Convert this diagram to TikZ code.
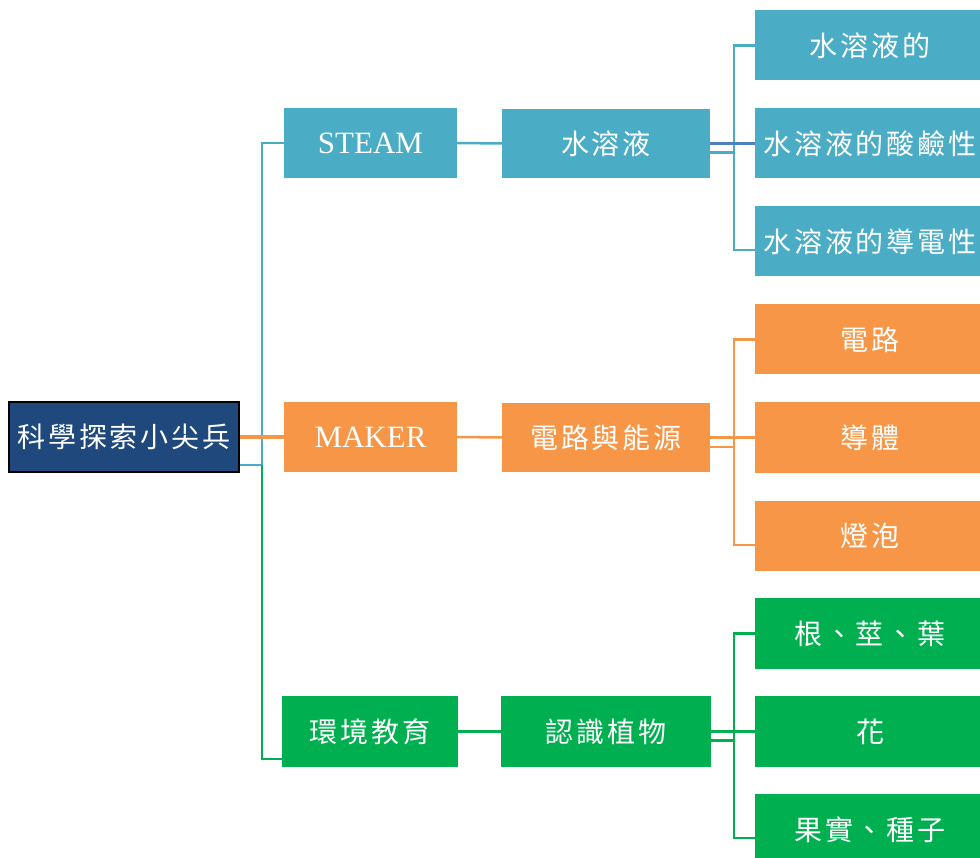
\documentclass[tikz,border=0pt]{standalone}
\usepackage{fontspec}
\setmainfont{Liberation Serif}
\newfontfamily\cjk{Noto Sans CJK TC}[LetterSpace=10]
\definecolor{cblue}{HTML}{4BACC6}
\definecolor{cdblue}{HTML}{4F81BD}
\definecolor{corange}{HTML}{F79646}
\definecolor{cgreen}{HTML}{00B050}
\definecolor{croot}{HTML}{1F497D}
\tikzset{
  box/.style={rectangle, inner sep=0pt, text=white, minimum height=70pt, font=\cjk\fontsize{28}{32}\selectfont},
  latinbox/.style={box, font=\fontsize{31}{34}\selectfont},
  bluebox/.style={fill=cblue},
  orangebox/.style={fill=corange},
  greenbox/.style={fill=cgreen},
  rootbox/.style={box, fill=croot, draw=black, line width=2pt, minimum width=230pt},
  bline/.style={draw=cblue, line width=2.5pt},
  dbline/.style={draw=cdblue, line width=2.5pt},
  oline/.style={draw=corange, line width=2.5pt},
  gline/.style={draw=cgreen, line width=2.5pt},
}
\begin{document}
\begin{tikzpicture}[x=1pt,y=-1pt]
\useasboundingbox (0,0) rectangle (980,858);
\clip (0,0) rectangle (980,858);
% root
\node[rootbox] (root) at (124,437) {科學探索小尖兵};
% level 1
\node[latinbox, bluebox, minimum width=173pt] (steam) at (370.5,143) {STEAM};
\node[latinbox, orangebox, minimum width=173pt] (maker) at (370.5,437) {MAKER};
\node[box, greenbox, minimum width=176pt, minimum height=71pt] (env) at (370,731.5) {環境教育};
% level 2
\node[box, bluebox, minimum width=208pt, minimum height=69pt] (sol) at (606,143.5) {水溶液};
\node[box, orangebox, minimum width=208pt, minimum height=69pt] (circ) at (606,437.5) {電路與能源};
\node[box, greenbox, minimum width=210pt, minimum height=71pt] (plant) at (606,731.5) {認識植物};
% level 3
\node[box, bluebox, minimum width=230pt] (b1) at (870,45.5) {水溶液的};
\node[box, bluebox, minimum width=230pt] (b2) at (870,143.5) {水溶液的酸鹼性};
\node[box, bluebox, minimum width=230pt] (b3) at (870,241.5) {水溶液的導電性};
\node[box, orangebox, minimum width=230pt] (o1) at (870,339.5) {電路};
\node[box, orangebox, minimum width=230pt] (o2) at (870,437.5) {導體};
\node[box, orangebox, minimum width=230pt] (o3) at (870,535.5) {燈泡};
\node[box, greenbox, minimum width=230pt, minimum height=71pt] (g1) at (870,633.5) {根、莖、葉};
\node[box, greenbox, minimum width=230pt, minimum height=71pt] (g2) at (870,731.5) {花};
\node[box, greenbox, minimum width=230pt, minimum height=71pt] (g3) at (870,829.5) {果實、種子};
% trunk and port coordinates
\coordinate (t1) at (262,0);
\coordinate (t2) at (734,0);
\coordinate (rootlow) at ([yshift=-28pt]root.east);
\coordinate (envlow) at ([yshift=-27.5pt]env.west);
\coordinate (sollow) at ([yshift=-9pt]sol.east);
\coordinate (b3low) at ([yshift=-8.5pt]b3.west);
\coordinate (circlow) at ([yshift=-9.5pt]circ.east);
\coordinate (o3low) at ([yshift=-9.5pt]o3.west);
\coordinate (plantlow) at ([yshift=-9pt]plant.east);
\coordinate (g3low) at ([yshift=-8.5pt]g3.west);
% root -> level 1
\draw[bline] (rootlow) -- (t1 |- rootlow) -- (t1 |- steam.west) -- (steam.west);
\draw[gline] (t1 |- rootlow) -- (t1 |- envlow) -- (envlow);
\draw[draw=corange, line width=4pt] (root.east) -- (maker.west);
% level 1 -> level 2
\draw[bline] (steam.east) -- (sol.west);
\draw[oline] (maker.east) -- (circ.west);
\draw[gline] (env.east) -- (plant.west);
% level 2 -> level 3 (blue)
\draw[bline] (sollow) -- (t2 |- sollow);
\draw[bline] (b1.west) -- (t2 |- b1.west) -- (t2 |- b3low) -- (b3low);
\draw[dbline] (sol.east) -- (b2.west);
% orange
\draw[oline] (circlow) -- (t2 |- circlow);
\draw[oline] (o1.west) -- (t2 |- o1.west) -- (t2 |- o3low) -- (o3low);
\draw[oline] (circ.east) -- (o2.west);
% green
\draw[gline] (plantlow) -- (t2 |- plantlow);
\draw[gline] (g1.west) -- (t2 |- g1.west) -- (t2 |- g3low) -- (g3low);
\draw[gline] (plant.east) -- (g2.west);
\end{tikzpicture}
\end{document}
